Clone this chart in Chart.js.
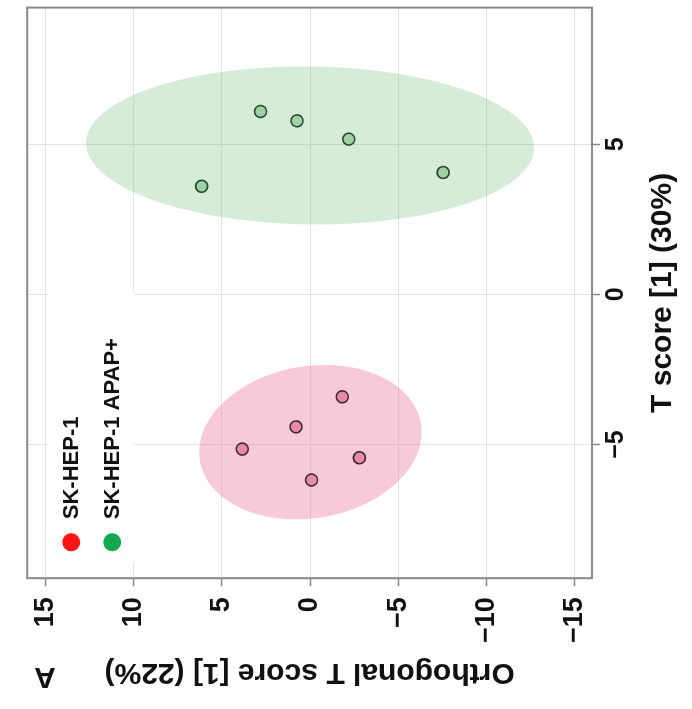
<!DOCTYPE html>
<html>
<head>
<meta charset="utf-8">
<script src="https://cdn.jsdelivr.net/npm/chart.js@4.4.1/dist/chart.umd.min.js"></script>
<style>
  html, body { margin:0; padding:0; background:#ffffff; overflow:hidden; }
  #wrap { position:absolute; left:0; top:0; width:709px; height:692px;
          transform-origin:0 0; transform:translate(0px,709px) rotate(-90deg); background:#fff; }
</style>
</head>
<body>
<div id="wrap"><canvas id="c" width="709" height="692"></canvas></div>
<script>
// ---- data ----
const groupNames = ['SK-HEP-1', 'SK-HEP-1 APAP+'];
const ctrlT = [-3.41, -4.41, -5.15, -5.44, -6.18];
const ctrlO = [-1.83, 0.80, 3.85, -2.80, -0.08];
const apapT = [6.09, 5.78, 5.17, 3.60, 4.06];
const apapO = [2.81, 0.74, -2.20, 6.15, -7.55];
const xTicks = [-5, 0, 5];
const yTicks = [-15, -10, -5, 0, 5, 10, 15];
// confidence ellipses: centre, semi-axes, correlation
const ellCenterT = [-4.92, 4.96];
const ellCenterO = [-0.02, 0.0];
const ellRadT = [2.57, 2.63];
const ellRadO = [6.31, 12.71];
const ellRho = [-0.13, 0.03];
const ellFill = ['rgba(236,120,160,0.40)', 'rgba(100,190,110,0.27)'];
const legendColors = ['#ff1414', '#12a94e'];

const FAM = '"Liberation Sans", Arial, Helvetica, sans-serif';
const fmt = v => (v < 0 ? '\u2212' + Math.abs(v) : String(v));

const ellipsePlugin = {
  id: 'ellipses',
  beforeDatasetsDraw(chart) {
    const {ctx, chartArea: a, scales: {x, y}} = chart;
    ctx.save();
    ctx.beginPath(); ctx.rect(a.left, a.top, a.right - a.left, a.bottom - a.top); ctx.clip();
    // legend background (covers grid inside panel)
    ctx.fillStyle = '#ffffff';
    ctx.fillRect(a.left + 16, a.top + 21, 270, 86);
    for (let g = 0; g < ellCenterT.length; g++) {
      const r = ellRho[g], s = Math.sqrt(1 - r * r);
      ctx.beginPath();
      for (let i = 0; i <= 240; i++) {
        const t = i / 240 * Math.PI * 2;
        const tv = ellCenterT[g] + ellRadT[g] * Math.cos(t);
        const ov = ellCenterO[g] + ellRadO[g] * (r * Math.cos(t) + s * Math.sin(t));
        const px = x.getPixelForValue(tv), py = y.getPixelForValue(ov);
        if (i === 0) ctx.moveTo(px, py); else ctx.lineTo(px, py);
      }
      ctx.closePath();
      ctx.fillStyle = ellFill[g];
      ctx.fill();
    }
    ctx.restore();
  },
  afterDatasetsDraw(chart) {
    const {ctx, chartArea: a} = chart;
    ctx.save();
    // panel border
    ctx.strokeStyle = '#8a8a8a';
    ctx.lineWidth = 2;
    ctx.strokeRect(a.left, a.top, a.right - a.left, a.bottom - a.top);
    // legend inside panel
    ctx.font = 'bold 22px ' + FAM;
    ctx.textBaseline = 'middle';
    ctx.textAlign = 'left';
    for (let g = 0; g < groupNames.length; g++) {
      const cy = a.top + 44 + g * 41;
      ctx.beginPath();
      ctx.arc(a.left + 36, cy, 9, 0, Math.PI * 2);
      ctx.fillStyle = legendColors[g];
      ctx.fill();
      ctx.fillStyle = '#111';
      ctx.fillText(groupNames[g], a.left + 59, cy + 1);
    }
    // panel tag
    ctx.translate(33, 45);
    ctx.rotate(-Math.PI / 2);
    ctx.font = 'bold 30px ' + FAM;
    ctx.textAlign = 'center';
    ctx.fillText('A', 0, 0);
    ctx.restore();
  }
};

new Chart(document.getElementById('c'), {
  type: 'scatter',
  data: {
    datasets: [
      { label: groupNames[0], data: ctrlT.map((v, i) => ({x: v, y: ctrlO[i]})),
        backgroundColor: '#e98aab', borderColor: '#3a2a30', borderWidth: 1.6, pointRadius: 6 },
      { label: groupNames[1], data: apapT.map((v, i) => ({x: v, y: apapO[i]})),
        backgroundColor: '#9cd3a3', borderColor: '#2c452f', borderWidth: 1.6, pointRadius: 6 }
    ]
  },
  options: {
    responsive: false,
    animation: false,
    layout: { padding: { left: 15, top: 21, right: 5, bottom: 7 } },
    plugins: { legend: { display: false }, tooltip: { enabled: false } },
    scales: {
      x: {
        type: 'linear', min: -9.45, max: 9.55,
        afterBuildTicks: s => { s.ticks = xTicks.map(v => ({value: v})); },
        grid: { color: '#e4e4e4', lineWidth: 1, tickColor: '#8a8a8a', tickLength: 8, tickWidth: 1.5 },
        border: { display: false },
        ticks: { font: { family: FAM, size: 25, weight: 'bold' }, color: '#111', padding: 1, maxRotation: 0, callback: fmt },
        title: { display: true, text: 'T score [1] (30%)', font: { family: FAM, size: 30, weight: 'bold' }, color: '#111', padding: { top: 13, bottom: 4 } }
      },
      y: {
        type: 'linear', min: -16, max: 16.05,
        afterBuildTicks: s => { s.ticks = yTicks.map(v => ({value: v})); },
        grid: { color: '#e4e4e4', lineWidth: 1, tickColor: '#8a8a8a', tickLength: 8, tickWidth: 1.5 },
        border: { display: false },
        ticks: { font: { family: FAM, size: 27, weight: 'bold' }, color: '#111', padding: 11, callback: fmt },
        title: { display: true, text: 'Orthogonal T score [1] (22%)', font: { family: FAM, size: 30, weight: 'bold' }, color: '#111', padding: { top: 4, bottom: 0 } }
      }
    }
  },
  plugins: [ellipsePlugin]
});
</script>
</body>
</html>
